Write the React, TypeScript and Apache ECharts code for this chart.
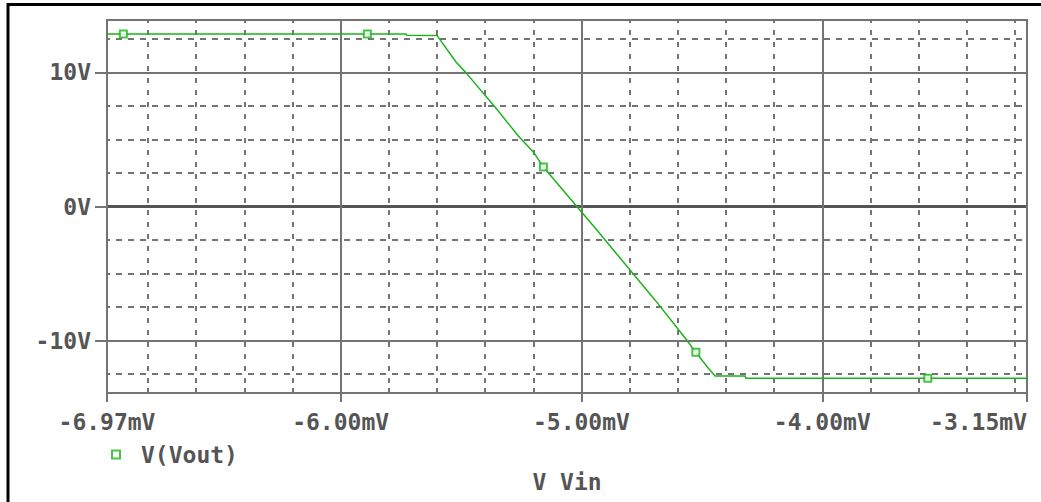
import React, { useEffect, useRef } from 'react';
import * as echarts from 'echarts';

// Sweep of Vin (mV) and resulting Vout (V)
const vinMv = [-6.97, -5.728, -5.726, -5.6, -5.52, -5.479, -5.359, -5.262, -5.197, -5.158, -5.019, -4.943, -4.694, -4.563, -4.525, -4.473, -4.445, -4.32, -4.318, -3.15];
const voutV = [12.86, 12.86, 12.76, 12.75, 10.75, 9.96, 7.42, 5.25, 4.0, 2.94, 0, -1.61, -6.98, -9.95, -10.87, -12.06, -12.63, -12.63, -12.8, -12.8];

// Trace marker positions
const markerVin = [-6.902, -5.889, -5.158, -4.525, -3.562];
const markerVout = [12.86, 12.86, 2.94, -10.87, -12.8];

// Axis ranges and ticks
const X_MIN = -6.97;
const X_MAX = -3.15;
const Y_MIN = -13.9;
const Y_MAX = 13.9;
const xMajorTicks = [-6.97, -6, -5, -4, -3.15];
const xMinorTicks = [-6.8, -6.6, -6.4, -6.2, -5.8, -5.6, -5.4, -5.2, -4.8, -4.6, -4.4, -4.2, -3.8, -3.6, -3.4, -3.2];
const yMajorTicks = [-10, 0, 10];
const yMinorTicks = [-12.5, -7.5, -5, -2.5, 2.5, 5, 7.5, 12.5];
const zeroLine = [0];

const traceName = 'V(Vout)';
const xAxisTitle = 'V Vin';

const GREEN = '#1db31d';
const GRID = '#747474';
const TEXT = '#555555';

export default function App() {
  const ref = useRef<HTMLDivElement>(null);
  useEffect(() => {
    const chart = echarts.init(ref.current!, null, { renderer: 'svg' });
    const font = {
      fontFamily: "'DejaVu Sans Mono', monospace",
      fontWeight: 'bold' as const,
      fontSize: 23,
      color: TEXT,
    };
    chart.setOption({
      animation: false,
      backgroundColor: '#ffffff',
      graphic: [
        {
          type: 'rect',
          silent: true,
          shape: { x: 8, y: 4.5, width: 1040, height: 520 },
          style: { fill: 'none', stroke: '#000000', lineWidth: 3 },
        },
      ],
      grid: {
        left: 107,
        right: 14,
        top: 20,
        bottom: 109,
        show: true,
        borderColor: GRID,
        borderWidth: 2,
        backgroundColor: 'transparent',
      },
      legend: {
        data: [traceName],
        left: 111,
        top: 443,
        padding: 0,
        itemWidth: 8,
        itemHeight: 8,
        icon: 'rect',
        itemStyle: { color: '#ffffff', borderColor: GREEN, borderWidth: 2 },
        textStyle: { ...font, padding: [0, 0, 0, 16] },
      },
      xAxis: [
        {
          type: 'value',
          min: X_MIN,
          max: X_MAX,
          position: 'bottom',
          name: xAxisTitle,
          nameLocation: 'middle',
          nameGap: 77,
          nameTextStyle: font,
          axisLine: { show: true, onZero: false, lineStyle: { color: GRID, width: 2 } },
          axisTick: { show: true, inside: false, length: 9, customValues: xMajorTicks, lineStyle: { color: GRID, width: 2 } },
          axisLabel: {
            ...font,
            margin: 17,
            customValues: xMajorTicks,
            alignMaxLabel: 'right',
            formatter: (v: number) => `${v.toFixed(2)}mV`,
          },
          splitLine: { show: true, lineStyle: { color: GRID, width: 2, type: 'solid' } },
        },
        {
          type: 'value',
          min: X_MIN,
          max: X_MAX,
          position: 'bottom',
          axisLine: { show: false, onZero: false },
          axisTick: { show: true, inside: true, length: 5, customValues: xMinorTicks, lineStyle: { color: GRID, width: 2 } },
          axisLabel: { show: false },
          splitLine: { show: true, lineStyle: { color: GRID, width: 2, type: [5, 7], dashOffset: 2 } },
        },
      ],
      yAxis: [
        {
          type: 'value',
          min: Y_MIN,
          max: Y_MAX,
          position: 'left',
          axisLine: { show: true, onZero: false, lineStyle: { color: GRID, width: 2 } },
          axisTick: { show: true, inside: false, length: 12, customValues: yMajorTicks, lineStyle: { color: GRID, width: 2 } },
          axisLabel: {
            ...font,
            margin: 16,
            customValues: yMajorTicks,
            formatter: (v: number) => `${v}V`,
          },
          splitLine: { show: true, lineStyle: { color: GRID, width: 2, type: 'solid' } },
        },
        {
          type: 'value',
          min: Y_MIN,
          max: Y_MAX,
          position: 'left',
          axisLine: { show: false, onZero: false },
          axisTick: { show: false, customValues: yMinorTicks },
          axisLabel: { show: false },
          splitLine: { show: true, lineStyle: { color: GRID, width: 2, type: [6, 6], dashOffset: 3 } },
        },
        {
          type: 'value',
          min: Y_MIN,
          max: Y_MAX,
          position: 'left',
          axisLine: { show: false, onZero: false },
          axisTick: { show: false, customValues: zeroLine },
          axisLabel: { show: false },
          splitLine: { show: true, lineStyle: { color: '#555555', width: 3, type: 'solid' } },
        },
      ],
      series: [
        {
          name: 'trace',
          type: 'line',
          xAxisIndex: 0,
          yAxisIndex: 0,
          data: vinMv.map((x, i) => [x, voutV[i]]),
          showSymbol: false,
          lineStyle: { color: GREEN, width: 1.5 },
          z: 3,
        },
        {
          name: traceName,
          type: 'scatter',
          xAxisIndex: 0,
          yAxisIndex: 0,
          data: markerVin.map((x, i) => [x, markerVout[i]]),
          symbol: 'rect',
          symbolSize: 7,
          itemStyle: { color: '#ffffff', borderColor: GREEN, borderWidth: 2 },
          z: 4,
        },
      ],
    });
    return () => chart.dispose();
  }, []);
  return <div ref={ref} style={{ position: 'fixed', left: 0, top: 0, width: 1041, height: 502 }} />;
}
